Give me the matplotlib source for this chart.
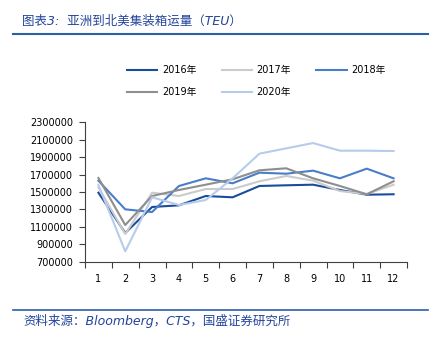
import numpy as np
import matplotlib
matplotlib.use("Agg")
import matplotlib.pyplot as plt
from matplotlib.lines import Line2D

# fonts: DejaVu for latin/digits, Noto CJK for chinese
plt.rcParams['font.family'] = ['DejaVu Sans', 'Noto Sans CJK SC']

# monthly container volume Asia -> North America (TEU)
months = [1, 2, 3, 4, 5, 6, 7, 8, 9, 10, 11, 12]
y2016 = [1492000, 1030000, 1328000, 1347000, 1454000, 1439000, 1569000, 1577000, 1584000, 1523000, 1469000, 1474000]
y2017 = [1554000, 1018000, 1492000, 1454000, 1534000, 1534000, 1623000, 1684000, 1630000, 1511000, 1477000, 1584000]
y2018 = [1630000, 1301000, 1270000, 1569000, 1657000, 1600000, 1722000, 1710000, 1745000, 1657000, 1768000, 1657000]
y2019 = [1661000, 1121000, 1454000, 1523000, 1584000, 1646000, 1749000, 1772000, 1657000, 1569000, 1474000, 1623000]
y2020 = [1580000, 819000, 1439000, 1351000, 1408000, 1657000, 1940000, 2001000, 2062000, 1974000, 1974000, 1970000]

series = {
    "2016年": (y2016, "#1A4C9C"),
    "2017年": (y2017, "#CBCBCB"),
    "2018年": (y2018, "#4A7DC8"),
    "2019年": (y2019, "#8E8E8E"),
    "2020年": (y2020, "#B6CCEA"),
}
yticks = np.arange(700000, 2300001, 200000)

W, H = 433, 339
fig = plt.figure(figsize=(W / 100, H / 100), dpi=100)

# axes box in pixels
left, right, top, bottom = 85, 407, 122.3, 261.7
ax = fig.add_axes([left / W, 1 - bottom / H, (right - left) / W, (bottom - top) / H])

handles = {}
for name, (vals, col) in series.items():
    ln, = ax.plot(months, vals, color=col, lw=1.5, label=name)
    handles[name] = ln

ax.set_xlim(0.5, 12.5)
ax.set_ylim(700000, 2300000)
ax.set_yticks(yticks)
ax.set_yticklabels([str(v) for v in yticks], fontsize=7)

# category axis: ticks on boundaries, labels in the middle
ax.set_xticks(np.arange(0.5, 13, 1))
ax.set_xticklabels([])
ax.set_xticks(months, minor=True)
ax.set_xticklabels([str(m) for m in months], minor=True, fontsize=7)
ax.tick_params(axis='x', which='major', length=4, width=0.8, color="#404040")
ax.tick_params(axis='x', which='minor', length=0, pad=9)
ax.tick_params(axis='y', length=4, width=0.8, color="#404040", pad=4.5)

for s in ["top", "right"]:
    ax.spines[s].set_visible(False)
for s in ["left", "bottom"]:
    ax.spines[s].set_color("#404040")
    ax.spines[s].set_linewidth(0.8)

# legend, row-major order needs column-major handle list
order = ["2016年", "2019年", "2017年", "2020年", "2018年"]
fig.legend([handles[k] for k in order], order, ncol=3, frameon=False,
           loc="upper left", bbox_to_anchor=(127 / W, 1 - 65 / H),
           fontsize=7, handlelength=3.1, handletextpad=0.5,
           columnspacing=2.6, labelspacing=1.25, borderpad=0, borderaxespad=0)

# title and rules
blue = "#23449A"
fig.text(22 / W, 1 - 21 / H, "图表3:  亚洲到北美集装箱运量（TEU）", fontsize=9,
         color=blue, style="italic", va="center", ha="left")
fig.add_artist(Line2D([13 / W, 428 / W], [1 - 33.5 / H, 1 - 33.5 / H], color="#2E5DAA", lw=1.5))
fig.add_artist(Line2D([13 / W, 428 / W], [1 - 310 / H, 1 - 310 / H], color="#2E5DAA", lw=1.2))
fig.text(23 / W, 1 - 321 / H, "资料来源：Bloomberg，CTS，国盛证券研究所", fontsize=9,
         color=blue, style="italic", va="center", ha="left")

fig.savefig("out.png", dpi=100)
